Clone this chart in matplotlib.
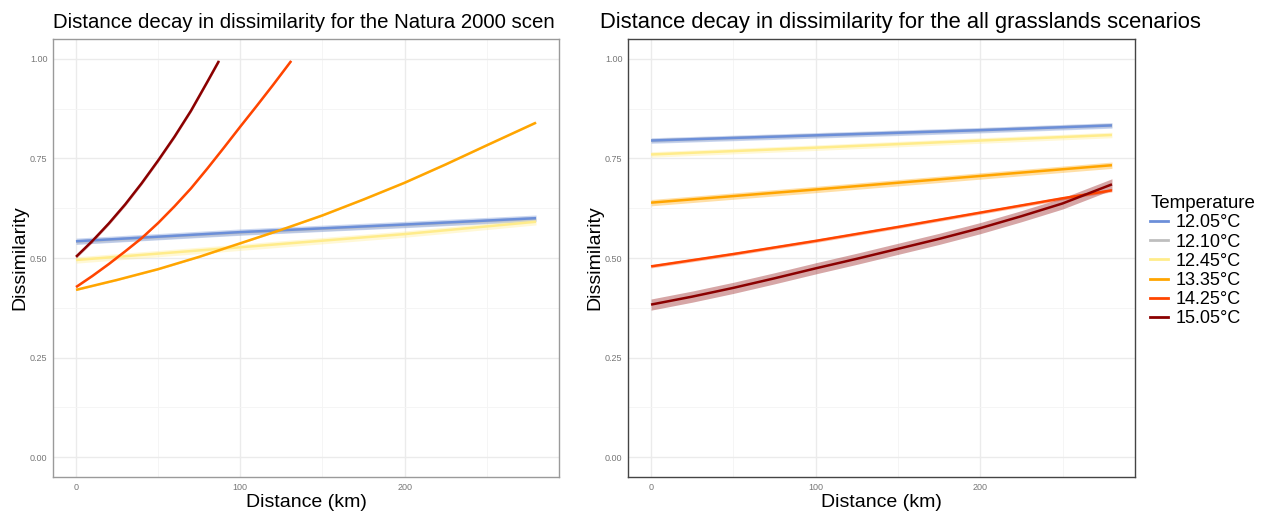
import numpy as np
import matplotlib
matplotlib.use("Agg")
import matplotlib.pyplot as plt
from matplotlib.lines import Line2D

# === DATA ===
TEMPS = ["12.05°C", "12.10°C", "12.45°C", "13.35°C", "14.25°C", "15.05°C"]
COLORS = ["#6C8FD9", "#BEBEBE", "#FFEC8B", "#FFA500", "#FF4500", "#8B0000"]

# Natura 2000 scenario (left)
n2k_x = {
    "12.05°C": [0, 100, 200, 280],
    "12.10°C": [0, 100, 200, 280],
    "12.45°C": [0, 100, 200, 280],
    "13.35°C": [0, 25, 50, 75, 100, 125, 150, 175, 200, 225, 250, 280],
    "14.25°C": [0, 10, 20, 30, 40, 50, 60, 70, 80, 90, 100, 110, 120, 131],
    "15.05°C": [0, 10, 20, 30, 40, 50, 60, 70, 80, 87],
}
n2k_y = {
    "12.05°C": [0.542, 0.565, 0.584, 0.600],
    "12.10°C": [0.541, 0.564, 0.583, 0.599],
    "12.45°C": [0.495, 0.527, 0.560, 0.591],
    "13.35°C": [0.420, 0.445, 0.472, 0.503, 0.537, 0.571, 0.607, 0.647, 0.689,
                0.735, 0.783, 0.840],
    "14.25°C": [0.427, 0.455, 0.485, 0.517, 0.550, 0.588, 0.630, 0.675, 0.725,
                0.777, 0.830, 0.882, 0.935, 0.995],
    "15.05°C": [0.503, 0.543, 0.587, 0.635, 0.688, 0.745, 0.805, 0.870, 0.943, 0.995],
}
n2k_se = {"12.05°C": 0.008, "12.10°C": 0.006, "12.45°C": 0.008,
          "13.35°C": 0.002, "14.25°C": 0.002, "15.05°C": 0.004}

# All grasslands scenario (right)
grass_x = {
    "12.05°C": [0, 100, 200, 280],
    "12.10°C": [0, 100, 200, 280],
    "12.45°C": [0, 100, 200, 280],
    "13.35°C": [0, 100, 200, 280],
    "14.25°C": [0, 50, 100, 150, 200, 250, 280],
    "15.05°C": [0, 25, 50, 75, 100, 125, 150, 175, 200, 225, 250, 280],
}
grass_y = {
    "12.05°C": [0.795, 0.808, 0.821, 0.833],
    "12.10°C": [0.795, 0.808, 0.821, 0.833],
    "12.45°C": [0.760, 0.777, 0.795, 0.809],
    "13.35°C": [0.639, 0.672, 0.706, 0.733],
    "14.25°C": [0.479, 0.510, 0.543, 0.578, 0.614, 0.650, 0.670],
    "15.05°C": [0.383, 0.403, 0.425, 0.449, 0.474, 0.498, 0.523, 0.548, 0.575,
                0.605, 0.637, 0.685],
}
grass_se = {"12.05°C": 0.007, "12.10°C": 0.005, "12.45°C": 0.007,
            "13.35°C": 0.008, "14.25°C": 0.004, "15.05°C": 0.014}

TITLES = ["Distance decay in dissimilarity for the Natura 2000 scen",
          "Distance decay in dissimilarity for the all grasslands scenarios"]

# grey series sits underneath the blue one
DRAW_ORDER = ["12.10°C", "12.05°C", "12.45°C", "13.35°C", "14.25°C", "15.05°C"]
col_of = dict(zip(TEMPS, COLORS))

plt.rcParams["font.family"] = ["Liberation Sans", "DejaVu Sans"]

fig = plt.figure(figsize=(12.71, 5.12), dpi=100)
ax1 = fig.add_axes([53 / 1271, 35 / 512, 506 / 1271, 438 / 512])
ax2 = fig.add_axes([628 / 1271, 35 / 512, 507 / 1271, 438 / 512])


def draw_panel(ax, xs, ys, ses, spine_col):
    for name in DRAW_ORDER:
        col = col_of[name]
        x = np.array(xs[name], dtype=float)
        y = np.array(ys[name], dtype=float)
        se = ses[name]
        ax.fill_between(x, y - se, y + se, color=col, alpha=0.35, lw=0)
        ax.plot(x, y, color=col, lw=1.8, solid_capstyle="butt")
    ax.set_xlim(-14, 294)
    ax.set_ylim(-0.05, 1.05)
    ax.set_xticks([0, 100, 200])
    ax.set_xticks([50, 150, 250], minor=True)
    ax.set_yticks([0, 0.25, 0.5, 0.75, 1.0])
    ax.set_yticks([0.125, 0.375, 0.625, 0.875], minor=True)
    ax.set_yticklabels(["0.00", "0.25", "0.50", "0.75", "1.00"])
    ax.grid(which="major", color="#EBEBEB", lw=1.0)
    ax.grid(which="minor", color="#F4F4F4", lw=0.6)
    ax.set_axisbelow(True)
    ax.tick_params(which="both", length=0, labelsize=6.5, labelcolor="#777777", pad=4)
    for s in ax.spines.values():
        s.set_color(spine_col)
        s.set_linewidth(1.0)
    ax.set_xlabel("Distance (km)", fontsize=14, labelpad=2)
    ax.set_ylabel("Dissimilarity", fontsize=14, labelpad=1)


draw_panel(ax1, n2k_x, n2k_y, n2k_se, "#9A9A9A")
draw_panel(ax2, grass_x, grass_y, grass_se, "#444444")

fig.text(53 / 1271, 1 - 28 / 512, TITLES[0], fontsize=14.7, ha="left", va="baseline")
fig.text(600 / 1271, 1 - 28 / 512, TITLES[1], fontsize=15.8, ha="left", va="baseline")

# === Legend ===
handles = [Line2D([0], [0], color=c, lw=2) for c in COLORS]
fig.legend(handles, TEMPS, title="Temperature", loc="upper left",
           bbox_to_anchor=(1143 / 1271, 1 - 188 / 512), frameon=False,
           fontsize=13, title_fontsize=13.5, handlelength=1.0, handletextpad=0.4,
           labelspacing=0.12, alignment="left", borderaxespad=0)

plt.savefig("out.png", dpi=100)
